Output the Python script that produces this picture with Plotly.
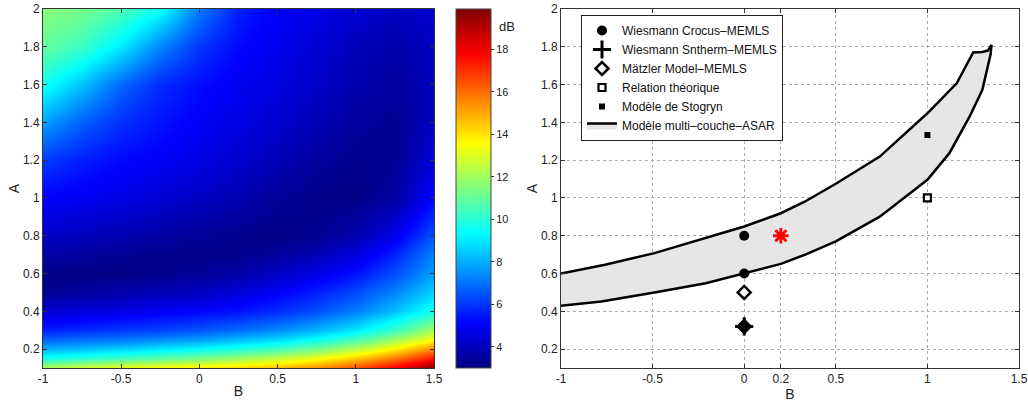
import plotly.graph_objects as go

# ---------------- data: left panel (field in dB over B x A) ----------------
B_grid = [-1.0, -0.75, -0.5, -0.25, 0.0, 0.25, 0.5, 0.75, 1.0, 1.25, 1.5]
A_grid = [0.1, 0.15, 0.2, 0.25, 0.3, 0.4, 0.5, 0.6, 0.7, 0.8, 1.0, 1.2, 1.4, 1.6, 1.8, 2.0]
dB_rows = [
    [12.4, 13.0, 13.5, 13.8, 14.0, 14.3, 14.8, 15.5, 16.6, 18.0, 19.8],  # A=0.1
    [9.8, 10.2, 10.6, 11.0, 11.5, 12.1, 12.7, 13.5, 14.6, 16.0, 17.7],   # 0.15
    [8.0, 8.3, 8.6, 9.0, 9.4, 9.9, 10.5, 11.3, 12.4, 13.8, 15.6],        # 0.2
    [6.8, 7.0, 7.2, 7.5, 7.8, 8.3, 8.8, 9.6, 10.6, 12.0, 13.6],          # 0.25
    [5.6, 5.8, 6.0, 6.2, 6.5, 6.9, 7.4, 8.1, 9.0, 10.3, 12.0],           # 0.3
    [4.3, 4.5, 4.7, 4.9, 5.1, 5.4, 5.8, 6.4, 7.2, 8.3, 9.7],             # 0.4
    [3.3, 3.5, 3.7, 3.9, 4.1, 4.5, 5.0, 5.6, 6.3, 7.3, 8.6],             # 0.5
    [3.1, 3.1, 3.1, 3.2, 3.4, 3.7, 4.2, 4.7, 5.4, 6.4, 7.8],             # 0.6
    [3.6, 3.5, 3.3, 3.2, 3.15, 3.2, 3.5, 3.9, 4.6, 5.7, 7.3],            # 0.7
    [4.2, 4.0, 3.8, 3.6, 3.4, 3.2, 3.1, 3.3, 3.8, 4.8, 6.5],             # 0.8
    [5.1, 4.9, 4.7, 4.4, 4.1, 3.8, 3.4, 3.15, 3.1, 3.6, 5.2],            # 1.0
    [6.1, 5.6, 5.2, 5.0, 4.7, 4.3, 3.9, 3.5, 3.2, 3.3, 4.5],             # 1.2
    [7.8, 6.7, 5.9, 5.4, 5.0, 4.7, 4.3, 3.9, 3.5, 3.3, 4.1],             # 1.4
    [9.6, 8.3, 6.8, 5.8, 5.3, 4.9, 4.6, 4.2, 3.8, 3.5, 4.0],             # 1.6
    [11.0, 10.3, 9.0, 7.3, 6.0, 5.2, 4.8, 4.4, 4.0, 3.7, 4.1],           # 1.8
    [11.6, 11.3, 10.6, 9.5, 7.2, 5.6, 5.0, 4.7, 4.4, 4.1, 4.3],          # 2.0
]
cbar_ticks = [4, 6, 8, 10, 12, 14, 16, 18]

# ---------------- data: right panel ----------------
upper_B = [-1.0, -0.76, -0.49, -0.21, 0.0, 0.2, 0.33, 0.5, 0.74, 1.0, 1.16, 1.25, 1.30, 1.33, 1.35]
upper_A = [0.60, 0.646, 0.708, 0.787, 0.849, 0.919, 0.98, 1.075, 1.219, 1.448, 1.607, 1.77, 1.772, 1.78, 1.81]
lower_B = [1.35, 1.345, 1.33, 1.30, 1.23, 1.12, 1.0, 0.74, 0.5, 0.33, 0.2, 0.0, -0.21, -0.49, -0.78, -1.0]
lower_A = [1.81, 1.76, 1.70, 1.572, 1.43, 1.237, 1.096, 0.901, 0.77, 0.699, 0.651, 0.602, 0.549, 0.5, 0.452, 0.429]

crocus_B = [0, 0]
crocus_A = [0.8, 0.6]
sntherm_B = [0]
sntherm_A = [0.32]
matzler_B = [0, 0]
matzler_A = [0.5, 0.32]
theorique_B = [1]
theorique_A = [1.0]
stogryn_B = [1]
stogryn_A = [1.333]
star_B = [0.2]
star_A = [0.8]

right_xticks = [-1, -0.5, 0, 0.2, 0.5, 1, 1.5]
right_xlabels = ["-1", "-0.5", "0", "0.2", "0.5", "1", "1.5"]
left_xticks = [-1, -0.5, 0, 0.5, 1, 1.5]
left_xlabels = ["-1", "-0.5", "0", "0.5", "1", "1.5"]

jet = [
    [0.0, "rgb(0,0,128)"],
    [0.125, "rgb(0,0,255)"],
    [0.375, "rgb(0,255,255)"],
    [0.625, "rgb(255,255,0)"],
    [0.875, "rgb(255,0,0)"],
    [1.0, "rgb(128,0,0)"],
]

W, H = 1028, 403
def px(x):
    return x / W
def py(y):
    return 1 - y / H

FONT = "Liberation Sans, Arial, Helvetica, sans-serif"

fig = go.Figure()

fig.add_trace(go.Heatmap(
    x=B_grid, y=A_grid, z=dB_rows, zsmooth="best",
    colorscale=jet, zmin=3.0, zmax=19.9,
    xaxis="x", yaxis="y", showlegend=False,
    colorbar=dict(
        x=px(456), xanchor="left", xpad=0,
        y=py(368), yanchor="bottom", ypad=0,
        len=(368 - 9) / H, lenmode="fraction",
        thickness=35, thicknessmode="pixels",
        outlinewidth=1, outlinecolor="#444",
        tickvals=cbar_ticks, ticks="outside", ticklen=3, tickcolor="#333",
        tickfont=dict(size=11, color="#222", family=FONT),
    ),
))

# shaded region
fig.add_trace(go.Scatter(
    x=upper_B + lower_B, y=upper_A + lower_A,
    mode="lines", fill="toself", fillcolor="#e6e6e6",
    line=dict(color="black", width=2.5),
    name="Modèle multi–couche–ASAR", legendrank=6,
    xaxis="x2", yaxis="y2",
))

fig.add_trace(go.Scatter(
    x=crocus_B, y=crocus_A, mode="markers", name="Wiesmann Crocus–MEMLS", legendrank=1,
    marker=dict(symbol="circle", size=10, color="black"), xaxis="x2", yaxis="y2",
))
fig.add_trace(go.Scatter(
    x=sntherm_B, y=sntherm_A, mode="markers", name="Wiesmann Sntherm–MEMLS", legendrank=2,
    marker=dict(symbol="cross-thin-open", size=13, color="black", line=dict(color="black", width=3)),
    xaxis="x2", yaxis="y2",
))
fig.add_trace(go.Scatter(
    x=matzler_B, y=matzler_A, mode="markers", name="Mätzler Model–MEMLS", legendrank=3,
    marker=dict(symbol="diamond", size=10, color=["white", "black"],
                line=dict(color="black", width=2.5)),
    xaxis="x2", yaxis="y2",
))
fig.add_trace(go.Scatter(
    x=theorique_B, y=theorique_A, mode="markers", name="Relation théorique", legendrank=4,
    marker=dict(symbol="square", size=7, color="white", line=dict(color="black", width=2.2)),
    xaxis="x2", yaxis="y2",
))
fig.add_trace(go.Scatter(
    x=stogryn_B, y=stogryn_A, mode="markers", name="Modèle de Stogryn", legendrank=5,
    marker=dict(symbol="square", size=6, color="black", line=dict(width=0)),
    xaxis="x2", yaxis="y2",
))
fig.add_trace(go.Scatter(
    x=star_B, y=star_A, mode="markers", showlegend=False,
    marker=dict(symbol="asterisk-open", size=13, color="red", line=dict(color="red", width=2.8)),
    xaxis="x2", yaxis="y2",
))

axis_common = dict(
    showline=True, linecolor="#333", linewidth=1, mirror="ticks",
    ticks="inside", ticklen=4, tickcolor="#333",
    tickfont=dict(size=12, color="#222", family=FONT),
    zeroline=False, automargin=False, ticklabeloverflow="allow",
)

ydom = [py(368), py(9)]
fig.update_layout(
    width=W, height=H,
    margin=dict(l=0, r=0, t=0, b=0, autoexpand=False),
    paper_bgcolor="white", plot_bgcolor="white",
    font=dict(family=FONT, color="#222"),
    xaxis=dict(domain=[px(43), px(434)], range=[-1, 1.5], tickvals=left_xticks,
               ticktext=left_xlabels, showgrid=False,
               title=dict(text="B", font=dict(size=14), standoff=0), anchor="y", **axis_common),
    yaxis=dict(domain=ydom, range=[0.1, 2], tick0=0.2, dtick=0.2, showgrid=False,
               title=dict(text="A", font=dict(size=14), standoff=0), anchor="x", **axis_common),
    xaxis2=dict(domain=[px(561), px(1019)], range=[-1, 1.5], tickvals=right_xticks,
                ticktext=right_xlabels, showgrid=True, gridcolor="#aaa", griddash="dot",
                gridwidth=1,
                title=dict(text="B", font=dict(size=14), standoff=0), anchor="y2", **axis_common),
    yaxis2=dict(domain=ydom, range=[0.1, 2], tick0=0.2, dtick=0.2, showgrid=True,
                gridcolor="#aaa", griddash="dot", gridwidth=1,
                title=dict(text="A", font=dict(size=14), standoff=0), anchor="x2", **axis_common),
    legend=dict(
        x=px(581), y=py(15), xanchor="left", yanchor="top",
        bgcolor="white", bordercolor="#222", borderwidth=1,
        font=dict(size=12, color="#111", family=FONT),
        tracegroupgap=0, itemwidth=30,
        traceorder="normal",
    ),
    annotations=[dict(
        text="dB", x=px(497), y=py(27), xref="paper", yref="paper",
        xanchor="left", yanchor="middle", showarrow=False,
        font=dict(size=13, color="#222", family=FONT),
    )],
)

fig.write_html("out.html", config={"displayModeBar": False},
               post_script="document.body.style.margin='0px';")
